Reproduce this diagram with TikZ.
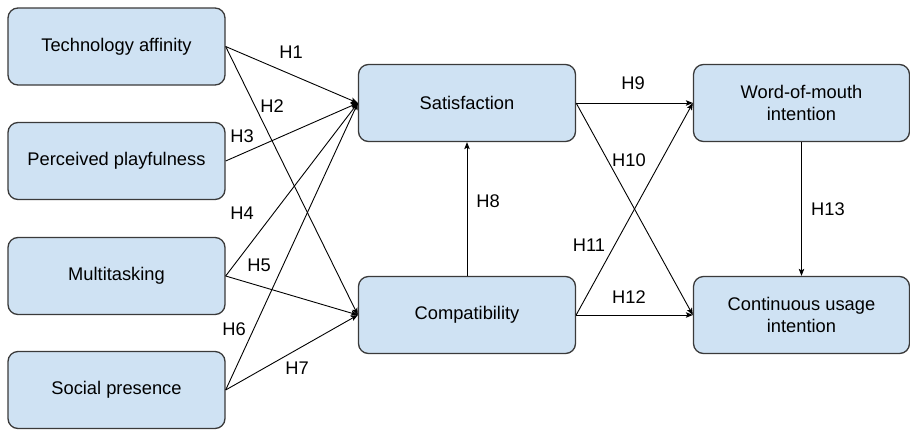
\documentclass[tikz,border=0pt]{standalone}
\usepackage{fontspec}
\setmainfont{Liberation Sans}
\usetikzlibrary{arrows.meta}
\definecolor{boxfill}{HTML}{CFE2F3}
\definecolor{boxline}{HTML}{3A3A3A}
\begin{document}
\begin{tikzpicture}[x=1pt,y=-1pt,
  cbox/.style={draw=boxline, line width=1.3pt, fill=boxfill, rounded corners=10pt,
    minimum width=217pt, minimum height=77pt, align=center, inner sep=2pt,
    font=\fontsize{18.3}{22}\selectfont},
  hlab/.style={inner sep=0pt, font=\fontsize{18.3}{22}\selectfont},
  conn/.style={line width=0.9pt, -{Stealth[length=7pt,width=5.5pt,inset=1.5pt]}}]
\useasboundingbox (0,0) rectangle (910,429);
% boxes
\node[cbox] (ta) at (116.5,46.5) {Technology affinity};
\node[cbox] (pp) at (116.5,161) {Perceived playfulness};
\node[cbox] (mt) at (116.5,276) {Multitasking};
\node[cbox] (sp) at (116.5,390) {Social presence};
\node[cbox] (sat) at (467,103) {Satisfaction};
\node[cbox] (comp) at (467,315) {Compatibility};
\node[cbox, minimum width=216pt] (wom) at (801.5,103) {Word-of-mouth\\intention};
\node[cbox, minimum width=216pt] (cui) at (801.5,315) {Continuous usage\\intention};
% connectors
\draw[conn] (ta.east) -- (sat.west);
\draw[conn] (ta.east) -- (comp.west);
\draw[conn] (pp.east) -- (sat.west);
\draw[conn] (mt.east) -- (sat.west);
\draw[conn] (mt.east) -- (comp.west);
\draw[conn] (sp.east) -- (sat.west);
\draw[conn] (sp.east) -- (comp.west);
\draw[conn] (comp.north) -- (sat.south);
\draw[conn] (sat.east) -- (wom.west);
\draw[conn] (sat.east) -- (cui.west);
\draw[conn] (comp.east) -- (wom.west);
\draw[conn] (comp.east) -- (cui.west);
\draw[conn] (wom.south) -- (cui.north);
% labels
\node[hlab] (h1) at (291,52) {H1};
\node[hlab] (h2) at (272,106) {H2};
\node[hlab] (h3) at (242,136) {H3};
\node[hlab] (h4) at (242,213) {H4};
\node[hlab] (h5) at (259,265) {H5};
\node[hlab] (h6) at (234,329) {H6};
\node[hlab] (h7) at (297,368) {H7};
\node[hlab] (h8) at (488,201) {H8};
\node[hlab] (h9) at (633,83) {H9};
\node[hlab] (h10) at (629,160) {H10};
\node[hlab] (h11) at (589,245) {H11};
\node[hlab] (h12) at (629,297) {H12};
\node[hlab] (h13) at (828,209) {H13};
\end{tikzpicture}
\end{document}
